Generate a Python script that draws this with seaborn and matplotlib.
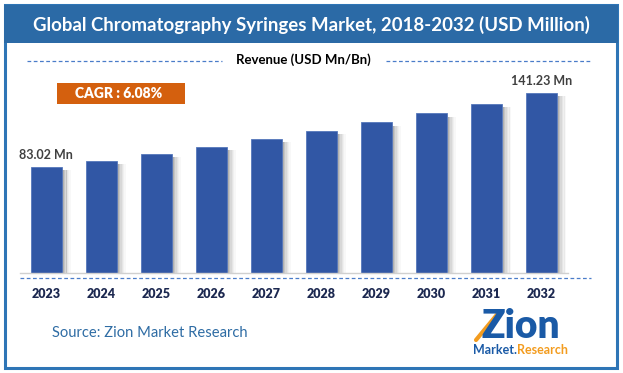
import numpy as np
import pandas as pd
import seaborn as sns
import matplotlib.pyplot as plt
from matplotlib.patches import Rectangle
from matplotlib.lines import Line2D

# Data (USD Million)
years = ['2023', '2024', '2025', '2026', '2027', '2028', '2029', '2030', '2031', '2032']
revenue = [83.02, 87.9, 93.3, 98.8, 104.9, 111.3, 117.9, 125.0, 132.6, 141.23]
bar_labels = ['83.02 Mn', '', '', '', '', '', '', '', '', '141.23 Mn']

title = 'Global Chromatography Syringes Market, 2018-2032 (USD Million)'
subtitle = 'Revenue (USD Mn/Bn)'
cagr_text = 'CAGR : 6.08%'
source_text = 'Source: Zion Market Research'

df = pd.DataFrame({'year': years, 'revenue': revenue})

sns.set_style('white')
plt.rcParams['font.family'] = ['Lato', 'DejaVu Sans']

W, H = 623, 373
fig = plt.figure(figsize=(W / 100, H / 100), dpi=100)

def fx(x):
    return x / W

def fy(y):
    return 1 - y / H

# outer frame and header band
fig.patches.append(Rectangle((fx(5), fy(368)), fx(612), (363) / H, transform=fig.transFigure,
                             fill=False, edgecolor='#2e75b6', linewidth=2.2, zorder=0))
fig.patches.append(Rectangle((fx(4), fy(43)), fx(614), 38 / H, transform=fig.transFigure,
                             facecolor='#2b6aa6', edgecolor='none', zorder=1))
fig.text(fx(311), fy(25), title, color='white', fontsize=13.4, fontweight='bold',
         ha='center', va='center')

# subtitle with dashed rules
fig.text(fx(303), fy(60), subtitle, color='black', fontsize=9.5, fontweight='bold',
         ha='center', va='center')
fig.lines.append(Line2D([fx(27), fx(222)], [fy(61), fy(61)], transform=fig.transFigure,
                        color='#4a7cc9', linestyle=(0, (3, 2)), linewidth=0.9))
fig.lines.append(Line2D([fx(386), fx(591)], [fy(61), fy(61)], transform=fig.transFigure,
                        color='#4a7cc9', linestyle=(0, (3, 2)), linewidth=0.9))

# bar axes
ax = fig.add_axes([fx(20), fy(273), fx(548), 193 / H])
scale = 1.277  # px per USD Mn
ax.set_ylim(0, 193 / scale)
ax.set_xlim(-0.48, 9.48)

# soft shadow to the right of each bar
pos = np.arange(len(years))
for i, a in enumerate([0.38, 0.28, 0.19, 0.12, 0.07, 0.03]):
    ax.bar(pos + 0.29 + i * 0.025, np.array(revenue) - 2.5, width=0.027, align='edge',
           color='#303030', alpha=a, linewidth=0, zorder=1)

sns.barplot(data=df, x='year', y='revenue', color='#3157a5', saturation=1,
            width=0.56, edgecolor='#5577bb', linewidth=0.6, ax=ax, zorder=2)
ax.set_xlim(-0.48, 9.48)
ax.bar_label(ax.containers[-1], labels=bar_labels, padding=4, fontsize=9,
             fontweight='bold', color='#404040')

ax.set_xlabel('')
ax.set_ylabel('')
ax.set_yticks([])
for s in ['top', 'right', 'left']:
    ax.spines[s].set_visible(False)
ax.spines['bottom'].set_color('#d0d0d0')
ax.spines['bottom'].set_linewidth(1)
ax.tick_params(axis='x', length=0, pad=11, labelsize=9, labelcolor='#1c2850')
for t in ax.get_xticklabels():
    t.set_fontweight('heavy')
ax.patch.set_alpha(0)

fig.lines.append(Line2D([fx(20), fx(591)], [fy(277.5), fy(277.5)], transform=fig.transFigure,
                        color='#4a7cc9', linestyle=(0, (3, 2)), linewidth=0.9))

# CAGR box
fig.patches.append(Rectangle((fx(57), fy(104)), fx(128), 21 / H, transform=fig.transFigure,
                             facecolor='#d4600e', edgecolor='none'))
fig.text(fx(119), fy(93.5), cagr_text, color='white', fontsize=10, fontweight='heavy',
         ha='center', va='center')

# source
fig.text(fx(52), fy(333), source_text, color='#2e6ca4', fontsize=10.6, ha='left', va='center')

# logo
fig.text(fx(521), fy(327), 'Zion', color='#1a5aa6', fontsize=28, fontweight='heavy',
         ha='center', va='center')
fig.lines.append(Line2D([fx(476), fx(500)], [fy(340), fy(311)], transform=fig.transFigure,
                        color='#f39c1f', linewidth=3))
fig.text(fx(517), fy(350), 'Market.', color='#1a5aa6', fontsize=9, fontweight='bold',
         ha='right', va='center')
fig.text(fx(517), fy(350), 'Research', color='#f39c1f', fontsize=9, fontweight='bold',
         ha='left', va='center')

fig.savefig('out.png', dpi=100)
